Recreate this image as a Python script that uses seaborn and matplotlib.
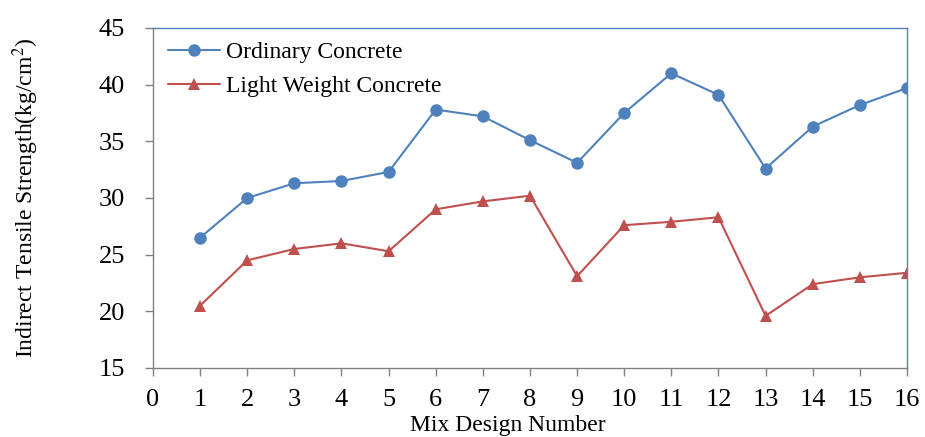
import pandas as pd
import seaborn as sns
import matplotlib.pyplot as plt

mix = list(range(1, 17))
ordinary = [26.5, 30.0, 31.3, 31.5, 32.3, 37.8, 37.2, 35.1,
            33.1, 37.5, 41.0, 39.1, 32.6, 36.3, 38.2, 39.7]
light = [20.5, 24.5, 25.5, 26.0, 25.3, 29.0, 29.7, 30.2,
         23.1, 27.6, 27.9, 28.3, 19.6, 22.4, 23.0, 23.4]
series = ["Ordinary Concrete", "Light Weight Concrete"]

df = pd.DataFrame({
    "mix": mix * 2,
    "strength": ordinary + light,
    "type": [series[0]] * len(mix) + [series[1]] * len(mix),
})

sns.set_style("white")
plt.rcParams["font.family"] = ["Liberation Serif", "DejaVu Serif"]
plt.rcParams["mathtext.fontset"] = "stix"
plt.rcParams["text.color"] = "black"
plt.rcParams["axes.labelcolor"] = "black"
plt.rcParams["xtick.color"] = "black"
plt.rcParams["ytick.color"] = "black"

fig = plt.figure(figsize=(9.25, 4.37), dpi=100)
ax = fig.add_axes([0.1654, 0.1579, 0.8151, 0.7781])

sns.lineplot(data=df, x="mix", y="strength", hue="type", style="type",
             markers=["o", "^"], dashes=False,
             palette=["#4F81BD", "#C0504D"], markersize=9,
             markeredgewidth=0, linewidth=1.5, ax=ax)

ax.set_xlim(0, 16)
ax.set_ylim(15, 45)
ax.set_xticks(range(0, 17))
ax.set_yticks(range(15, 46, 5))
ax.tick_params(axis="both", labelsize=19, direction="out", length=6,
               width=1, color="#808080", labelcolor="black",
               bottom=True, left=True)
ax.tick_params(axis="x", pad=9)
ax.tick_params(axis="y", pad=14)

for side in ["left", "bottom"]:
    ax.spines[side].set_color("#808080")
for side in ["top", "right"]:
    ax.spines[side].set_color("#4F81BD")
for sp in ax.spines.values():
    sp.set_linewidth(1)

ax.set_xlabel("Mix Design Number", fontsize=17)
ax.set_ylabel("Indirect Tensile Strength(kg/cm$^2$)", fontsize=17)
ax.xaxis.set_label_coords(0.471, -0.137)
ax.yaxis.set_label_coords(-0.149, 0.5)

ax.legend(title=None, loc="upper left", frameon=False, fontsize=17,
          handlelength=2.2, handletextpad=0.25, borderaxespad=0.0,
          borderpad=0.4, labelspacing=0.53,
          bbox_to_anchor=(0.007, 0.988))

fig.savefig("out.png", dpi=100)
